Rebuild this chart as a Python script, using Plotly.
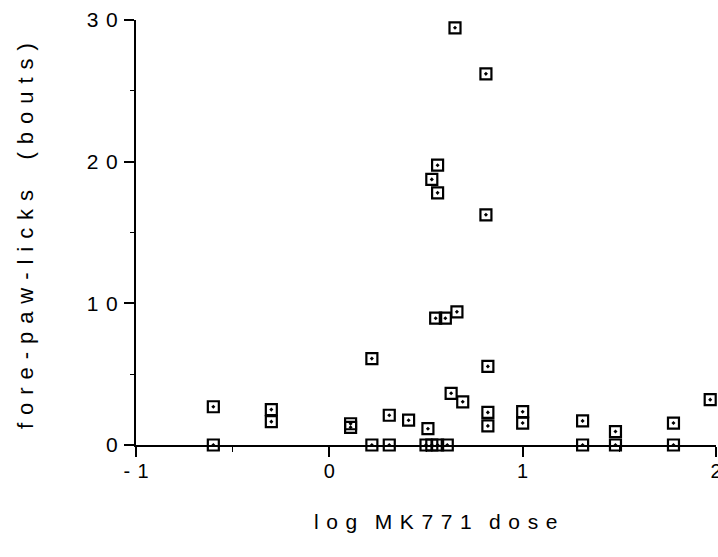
import plotly.graph_objects as go

# log dose (x) and number of fore-paw-lick bouts (y) per animal
log_dose = [
    -0.60, -0.60, -0.30, -0.30, 0.11, 0.11, 0.22, 0.22, 0.31, 0.31,
    0.41, 0.51, 0.50, 0.53, 0.56, 0.61, 0.53, 0.56, 0.56, 0.55,
    0.60, 0.66, 0.65, 0.63, 0.69, 0.81, 0.81, 0.82, 0.82, 0.82,
    1.00, 1.00, 1.31, 1.31, 1.48, 1.48, 1.78, 1.78, 1.97,
]
licks = [
    2.7, 0.0, 2.5, 1.65, 1.5, 1.25, 6.1, 0.0, 2.1, 0.0,
    1.75, 1.15, 0.0, 0.0, 0.0, 0.0, 18.75, 19.75, 17.8, 8.95,
    8.95, 9.4, 29.45, 3.65, 3.05, 26.2, 16.25, 5.55, 2.3, 1.35,
    2.35, 1.55, 1.7, 0.0, 0.95, 0.0, 1.55, 0.0, 3.2,
]

x_ticks = [-1, 0, 1, 2]
x_tick_labels = ["-1", "0", "1", "2"]
y_ticks = [0, 10, 20, 30]
y_tick_labels = ["0", "10", "20", "30"]

x_title = "log MK771 dose"
y_title_words = ["fore-paw-licks", "(bouts)"]

FONT = "Liberation Sans, Arial, Helvetica, sans-serif"
INK = "#000000"
GAP = " \u200a"  # wide tracking between letters


def tracked(text, word_gap="  "):
    words = text.split(" ")
    return word_gap.join(GAP.join(w) for w in words)


fig = go.Figure()
fig.add_trace(go.Scatter(
    x=log_dose,
    y=licks,
    mode="markers",
    cliponaxis=False,
    marker=dict(
        symbol="square-open-dot",
        size=11,
        color=INK,
        line=dict(color=INK, width=2.2),
    ),
    showlegend=False,
))

fig.update_layout(
    width=718,
    height=557,
    template=None,
    paper_bgcolor="white",
    plot_bgcolor="white",
    margin=dict(l=136, r=2, t=20, b=112),
    font=dict(family=FONT, size=20, color=INK),
    xaxis=dict(
        range=[-1, 2],
        tickvals=x_ticks,
        ticktext=[tracked(t) for t in x_tick_labels],
        showline=True,
        linecolor=INK,
        linewidth=1.5,
        ticks="outside",
        ticklen=10,
        tickwidth=2,
        tickcolor=INK,
        minor=dict(dtick=0.5, ticks="outside", ticklen=5, tickwidth=1, tickcolor=INK),
        showgrid=False,
        zeroline=False,
        automargin=False,
        ticklabeloverflow="allow",
        ticklabelstandoff=-3,
        tickfont=dict(size=20),
    ),
    yaxis=dict(
        range=[0, 30],
        tickvals=y_ticks,
        ticktext=[tracked(t) for t in y_tick_labels],
        showline=True,
        linecolor=INK,
        linewidth=2,
        ticks="outside",
        ticklen=10,
        tickwidth=2,
        tickcolor=INK,
        minor=dict(dtick=5, ticks="outside", ticklen=4, tickwidth=1, tickcolor=INK),
        showgrid=False,
        zeroline=False,
        automargin=False,
        ticklabeloverflow="allow",
        tickfont=dict(size=21),
        ticklabelstandoff=2,
    ),
)

fig.add_annotation(
    text=tracked(x_title, word_gap="   "),
    xref="paper", yref="paper",
    x=(435 - 136) / 580, y=-(521 - 445) / 425,
    xanchor="center", yanchor="middle",
    showarrow=False,
    font=dict(size=21, family=FONT, color=INK),
)

fig.add_annotation(
    text=("     ").join(tracked(w) for w in y_title_words),
    xref="paper", yref="paper",
    x=-(136 - 25) / 580, y=(445 - 236) / 425,
    xanchor="center", yanchor="middle",
    textangle=-90,
    showarrow=False,
    font=dict(size=22, family=FONT, color=INK),
)

fig.write_html("out.html")
